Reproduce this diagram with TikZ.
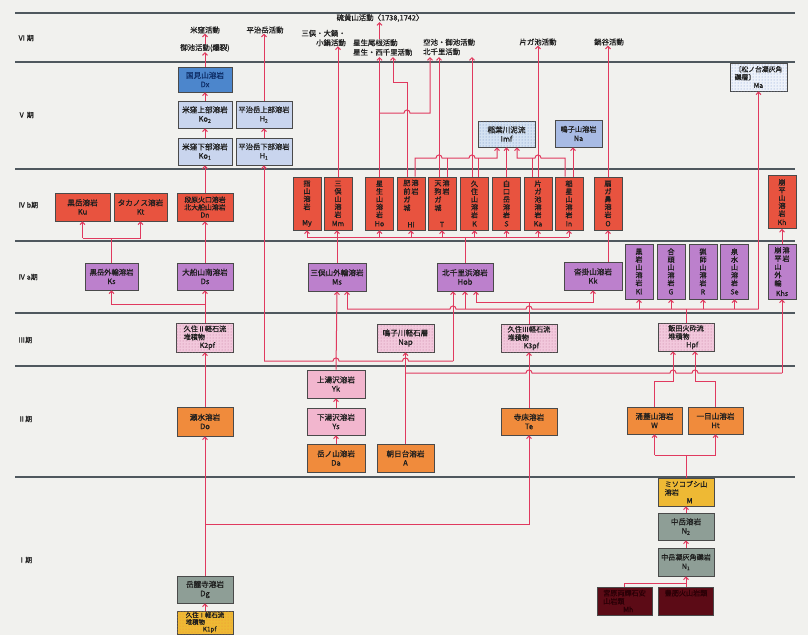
\documentclass[tikz,border=0pt]{standalone}
\usepackage{fontspec}
\newfontfamily\jp{Noto Sans CJK JP}[FakeBold=0.7]
\usetikzlibrary{arrows.meta,patterns}
\definecolor{bgc}{HTML}{F1F1EE}
\definecolor{pl}{HTML}{4F585E}
\definecolor{rl}{HTML}{E0395E}
\definecolor{bl}{HTML}{4A4A4A}
\definecolor{tx}{HTML}{1E1E1E}
\definecolor{dxb}{HTML}{4C86CC}
\definecolor{dxt}{HTML}{10306A}
\definecolor{pbl}{HTML}{C9D5EE}
\definecolor{nab}{HTML}{A8BBE4}
\definecolor{imfb}{HTML}{D4E2F2}
\definecolor{imfd}{HTML}{6A8AC0}
\definecolor{mab}{HTML}{EEF2FA}
\definecolor{mad}{HTML}{7A9AD0}
\definecolor{rd}{HTML}{E8533F}
\definecolor{pu}{HTML}{BC80CC}
\definecolor{pkd}{HTML}{F2C8DC}
\definecolor{pkdd}{HTML}{C0789A}
\definecolor{pk}{HTML}{F2B6CE}
\definecolor{og}{HTML}{F08B3C}
\definecolor{gr}{HTML}{8E9E96}
\definecolor{yl}{HTML}{EEB934}
\definecolor{dr}{HTML}{5C0B16}
\definecolor{drt}{HTML}{2A0006}
\begin{document}
\begin{tikzpicture}[x=1pt,y=-1pt,
  box/.style={draw=bl,line width=0.8pt,inner sep=0pt,align=center,text=tx,font=\jp\fontsize{7.6}{9}\selectfont},
  hbox/.style={box,minimum width=56pt,minimum height=27pt},
  tbox/.style={box,minimum width=56pt,minimum height=28pt,align=left,font=\jp\fontsize{7.1}{8.2}\selectfont},
  vbox/.style={box,minimum width=28pt,minimum height=53pt,font=\jp\fontsize{7.1}{7.8}\selectfont},
  dotpk/.style={fill=pkd,postaction={pattern=dots,pattern color=pkdd}},
  ttext/.style={inner sep=0pt,text=tx,font=\jp\fontsize{7.4}{9.5}\selectfont},
  plabel/.style={inner sep=0pt,anchor=west,text=tx,font=\jp\fontsize{7}{8}\selectfont},
  pline/.style={draw=pl,line width=1.2pt},
  conn/.style={draw=rl,line width=1pt},
  arr/.style={conn,-{Straight Barb[length=2.6pt,width=5pt]}}]
\fill[bgc] (0,0) rectangle (808,635);
\useasboundingbox (0,0) rectangle (808,635);
\clip (0,0) rectangle (808,635);
% period lines
\foreach \yy in {13,62,169,241,313,366,477} \draw[pline] (15,\yy) -- (795,\yy);
\node[plabel] (p6) at (18,38) {Ⅵ 期};
\node[plabel] (p5) at (18,115) {Ⅴ 期};
\node[plabel] (p4b) at (18,205) {Ⅳ b期};
\node[plabel] (p4a) at (18,277) {Ⅳ a期};
\node[plabel] (p3) at (18,340) {Ⅲ期};
\node[plabel] (p2) at (18,419) {Ⅱ期};
\node[plabel] (p1) at (18,560) {Ⅰ期};
% bus coordinates
\coordinate (b82) at (0,82);
\coordinate (b113) at (0,113);
\coordinate (b158) at (0,158);
\coordinate (b237) at (0,237);
\coordinate (b238) at (0,238);
\coordinate (b302) at (0,302);
\coordinate (b304) at (0,304);
\coordinate (b309) at (0,309);
\coordinate (b361) at (0,361);
\coordinate (b373) at (0,373);
\coordinate (b381) at (0,381);
\coordinate (b455) at (0,455);
\coordinate (b524) at (0,524);
\coordinate (b583) at (0,583);
\coordinate (b57) at (0,57);
% VI texts
\node[ttext] (komekubo) at (205,30) {米窪活動};
\node[ttext] (goike) at (205,48) {御池活動(爆裂)};
\node[ttext] (hijiact) at (265,30) {平治岳活動};
\node[ttext] (iouact) at (380,18) {硫黄山活動〈1738,1742〉};
\node[ttext,align=right,anchor=east] (mimact) at (346,38) {三俣・大鍋・\\小鍋活動};
\node[ttext,align=left,anchor=west] (hossact) at (353,47.5) {星生尾根活動\\星生・西千里活動};
\node[ttext,align=left,anchor=west] (karaact) at (423,47) {空池・御池活動\\北千里活動};
\node[ttext] (kataact) at (538,42) {片ガ池活動};
\node[ttext] (nabeact) at (609,42) {鍋谷活動};
% V
\node[box,fill=dxb,minimum width=54pt,minimum height=25pt,text=dxt] (Dx) at (205,79.5) {国見山溶岩\\Dx};
\node[hbox,fill=pbl,minimum width=54pt] (Ko2) at (205,114.5) {米窪上部溶岩\\Ko\textsubscript{2}};
\node[hbox,fill=pbl,font=\jp\fontsize{7.3}{9}\selectfont] (H2) at (264,114.5) {平治岳上部溶岩\\H\textsubscript{2}};
\node[hbox,fill=pbl,minimum width=54pt] (Ko1) at (205,151.5) {米窪下部溶岩\\Ko\textsubscript{1}};
\node[hbox,fill=pbl,font=\jp\fontsize{7.3}{9}\selectfont] (H1) at (264,151.5) {平治岳下部溶岩\\H\textsubscript{1}};
\node[hbox,fill=imfb,minimum width=57pt,minimum height=26pt,postaction={pattern=dots,pattern color=imfd}] (imf) at (506.5,134) {稲葉川泥流\\Imf};
\node[hbox,fill=nab,minimum width=47pt,font=\jp\fontsize{7.2}{9}\selectfont] (Na) at (578.5,133.5) {鳴子山溶岩\\Na};
\node[tbox,fill=mab,minimum width=57pt,postaction={pattern=dots,pattern color=mad},font=\jp\fontsize{6.8}{8}\selectfont] (Ma) at (758.5,77) {〔松ノ台凝灰角\\礫層〕\\\hspace*{19pt}Ma};
% IVb
\node[hbox,fill=rd,minimum width=55pt,minimum height=28pt] (Ku) at (82.5,207) {黒岳溶岩\\Ku};
\node[hbox,fill=rd,minimum width=53pt,minimum height=28pt] (Kt) at (140.5,207) {タカノス溶岩\\Kt};
\node[hbox,fill=rd,minimum height=28pt,font=\jp\fontsize{6.9}{7.6}\selectfont] (Dn) at (205,207) {段原火口溶岩\\北大船山溶岩\\Dn};
\node[vbox,fill=rd] (My) at (307,203.5) {指\\山\\溶\\岩\\[8pt]My};
\node[vbox,fill=rd] (Mm) at (338,203.5) {三\\俣\\山\\溶\\岩\\[1pt]Mm};
\node[vbox,fill=rd] (Ho) at (379.5,203.5) {星\\生\\山\\溶\\岩\\[1pt]Ho};
\node[vbox,fill=rd] (Hi) at (411,203.5) {\begin{tabular}{@{}c@{\hspace{1pt}}c@{}}肥&溶\\前&岩\\ガ&\\城&\end{tabular}\\[8pt]Hi};
\node[vbox,fill=rd] (T) at (442,203.5) {\begin{tabular}{@{}c@{\hspace{1pt}}c@{}}天&溶\\狗&岩\\ガ&\\城&\end{tabular}\\[8pt]T};
\node[vbox,fill=rd] (K) at (474.5,203.5) {久\\住\\山\\溶\\岩\\[1pt]K};
\node[vbox,fill=rd] (S) at (506.5,203.5) {白\\口\\岳\\溶\\岩\\[1pt]S};
\node[vbox,fill=rd] (Ka) at (538,203.5) {片\\ガ\\池\\溶\\岩\\[1pt]Ka};
\node[vbox,fill=rd] (In) at (569,203.5) {稲\\星\\山\\溶\\岩\\[1pt]In};
\node[vbox,fill=rd] (O) at (608,203.5) {扇\\ガ\\鼻\\溶\\岩\\[1pt]O};
\node[vbox,fill=rd] (Kh) at (782,202) {崩\\平\\山\\溶\\岩\\[1pt]Kh};
% IVa
\node[hbox,fill=pu,minimum width=53pt,font=\jp\fontsize{7.3}{9}\selectfont] (Ks) at (111.5,276.5) {黒岳外輪溶岩\\Ks};
\node[hbox,fill=pu] (Ds) at (205,276.5) {大船山南溶岩\\Ds};
\node[hbox,fill=pu,minimum width=58pt,minimum height=28pt] (Ms) at (337,277) {三俣山外輪溶岩\\Ms};
\node[hbox,fill=pu,minimum height=28pt] (Hob) at (465,277) {北千里浜溶岩\\Hob};
\node[hbox,fill=pu,minimum width=58pt,minimum height=28pt] (Kk) at (593,276) {沓掛山溶岩\\Kk};
\node[vbox,fill=pu,minimum height=55pt] (Kl) at (639,271.5) {黒\\岩\\山\\溶\\岩\\[1pt]Kl};
\node[vbox,fill=pu,minimum height=55pt] (G) at (671,271.5) {合\\頭\\山\\溶\\岩\\[1pt]G};
\node[vbox,fill=pu,minimum height=55pt] (R) at (703,271.5) {猟\\師\\山\\溶\\岩\\[1pt]R};
\node[vbox,fill=pu,minimum height=55pt] (Se) at (734.5,271.5) {泉\\水\\山\\溶\\岩\\[1pt]Se};
\node[vbox,fill=pu,minimum height=55pt] (Khs) at (782,271.5) {\begin{tabular}{@{}c@{\hspace{1pt}}c@{}}崩&溶\\平&岩\\山&\\外&\\輪&\end{tabular}\\[1pt]Khs};
% III
\node[tbox,dotpk,minimum width=57pt,minimum height=29pt] (K2pf) at (205,337.5) {久住Ⅱ軽石流\\堆積物\\\hspace*{16pt}K2pf};
\node[hbox,dotpk,minimum width=57pt,minimum height=28pt] (Nap) at (405.5,338) {鳴子川軽石層\\Nap};
\node[tbox,dotpk] (K3pf) at (529,338) {久住Ⅲ軽石流\\堆積物\\\hspace*{16pt}K3pf};
\node[tbox,dotpk] (Hpf) at (686,337) {飯田火砕流\\堆積物\\\hspace*{18pt}Hpf};
% II
\node[hbox,fill=pk,minimum width=58pt,minimum height=28pt] (Yk) at (336,384) {上湯沢溶岩\\Yk};
\node[hbox,fill=pk,minimum width=58pt] (Ys) at (336,421.5) {下湯沢溶岩\\Ys};
\node[hbox,fill=og,minimum width=58pt,minimum height=28pt] (Da) at (336,458) {岳ノ山溶岩\\Da};
\node[hbox,fill=og,minimum width=57pt,minimum height=28pt] (A) at (405.5,458) {朝日台溶岩\\A};
\node[hbox,fill=og,minimum height=29pt] (Do) at (205,421.5) {瀬水溶岩\\Do};
\node[hbox,fill=og] (Te) at (529,421.5) {寺床溶岩\\Te};
\node[hbox,fill=og,minimum width=55pt] (W) at (654.5,420.5) {涌蓋山溶岩\\W};
\node[hbox,fill=og,minimum width=55pt] (Ht) at (715.5,420.5) {一目山溶岩\\Ht};
% I
\node[tbox,fill=yl] (M) at (686,492) {ミソコブシ山\\溶岩\\\hspace*{22pt}M};
\node[hbox,fill=gr] (N2) at (686,526.5) {中岳溶岩\\N\textsubscript{2}};
\node[hbox,fill=gr,minimum height=28pt,font=\jp\fontsize{7.1}{9}\selectfont] (N1) at (686,562) {中岳凝灰角礫岩\\N\textsubscript{1}};
\node[hbox,fill=gr] (Dg) at (205,589.5) {岳麓寺溶岩\\Dg};
\node[tbox,fill=yl,minimum height=23pt,font=\jp\fontsize{6.4}{7}\selectfont,postaction={pattern=dots,pattern color=og}] (K1pf) at (205,622.5) {久住Ⅰ軽石流\\堆積物\\\hspace*{17pt}K1pf};
\node[tbox,fill=dr,minimum width=55pt,text=drt] (dk1) at (624.5,601) {宮原両輝石安\\山岩類\\\hspace*{20pt}Mh};
\node[tbox,fill=dr,minimum width=55pt,text=drt] (dk2) at (686,601) {豊肥火山岩類\\\\ };
% ---------- connectors ----------
% VI
\draw[arr] (Dx.north) -- (goike.south);
\draw[arr] (goike.north) -- (komekubo.south);
\draw[arr] (Ko2.north) -- (Dx.south);
\draw[arr] (Ko1.north) -- (Ko2.south);
\draw[arr] (H1.north) -- (H2.south);
\draw[arr] (H2.north) -- (H2.north |- hijiact.south);
\draw[arr] (Mm.north) -- (Mm.north |- mimact.south);
\draw[arr] (Ho.north) -- (Ho.north |- b57);
\draw[arr] (Ho.north |- hossact.north) -- (Ho.north |- iouact.south);
\draw[arr] ([xshift=-4pt]Hi.north) -- ([xshift=-4pt]Hi.north |- b82) -- (393,82) -- (393,57);
\draw[arr] (Ho.north |- b113) -- (404,113) .. controls (404,109) and (410,109) .. (410,113) -- (430,113) -- (430,57);
\draw[arr] ([xshift=-3pt]T.north) -- ([xshift=-3pt]T.north |- b57);
\draw[arr] ([xshift=-2.5pt]K.north) -- ([xshift=-2.5pt]K.north |- b57);
\draw[arr] (Ka.north) -- (Ka.north |- kataact.south);
\draw[arr] (O.north) -- (O.north |- nabeact.south);
% IVb -> V
\draw[arr] (Dn.north) -- (Ko1.south);
\draw[arr] ([xshift=4pt]Hi.north) -- ([xshift=4pt]Hi.north |- b158) -- (436,158) .. controls (436,154) and (442,154) .. (442,158) -- (469,158) .. controls (469,154) and (475,154) .. (475,158) -- ([xshift=-9.5pt]imf.south |- b158) -- ([xshift=-9.5pt]imf.south);
\draw[conn] ([xshift=5pt]T.north) -- ([xshift=5pt]T.north |- b158);
\draw[conn] ([xshift=3.5pt]K.north) -- ([xshift=3.5pt]K.north |- b158);
\draw[arr] (S.north) -- (imf.south);
\draw[arr] ([xshift=-4pt]In.north) -- ([xshift=-4pt]In.north |- b158) -- (541,158) .. controls (541,154) and (535,154) .. (535,158) -- ([xshift=10.5pt]imf.south |- b158) -- ([xshift=10.5pt]imf.south);
\draw[conn] ([xshift=-6pt]Ka.north) -- ([xshift=-6pt]Ka.north |- b158);
\draw[arr] ([xshift=4pt]In.north) -- ([xshift=4pt]In.north |- Na.south);
% IVa -> IVb
\draw[conn] (Ks.north) -- (Ks.north |- b238);
\draw[conn] (Ku.south |- b238) -- (Kt.south |- b238);
\draw[arr] (Ku.south |- b238) -- (Ku.south);
\draw[arr] (Kt.south |- b238) -- (Kt.south);
\draw[arr] (Ds.north) -- (Dn.south);
\draw[conn] (My.south |- b237) -- (In.south |- b237);
\draw[conn] (Hob.north) -- (Hob.north |- b237);
\foreach \n in {My,Ho,Hi,T,K,S,Ka,In} \draw[arr] (\n.south |- b237) -- (\n.south);
\draw[arr] (Ms.north) -- (Ms.north |- Mm.south);
\draw[arr] (O.south |- Kk.north) -- (O.south);
\draw[arr] (Khs.north) -- (Kh.south);
% III -> IVa
\draw[arr] (K2pf.north) -- (Ds.south);
\draw[arr] (Ds.south |- b304) -- (Ks.south |- b304) -- (Ks.south);
\draw[conn] (Hpf.north) -- (Hpf.north |- b309);
\draw[conn] ([xshift=10pt]Ms.south |- b309) -- (450,309) .. controls (450,305) and (456,305) .. (456,309) -- (526,309) .. controls (526,305) and (532,305) .. (532,309) -- (Ma.south |- b309);
\draw[arr] ([xshift=10pt]Ms.south |- b309) -- ([xshift=10pt]Ms.south);
\foreach \n in {Hob,Kl,G,R,Se,Ma} \draw[arr] (\n.south |- b309) -- (\n.south);
\draw[conn] (K3pf.north) -- (K3pf.north |- b302);
\draw[arr] (K3pf.north |- b302) -- ([xshift=11pt]Hob.south |- b302) -- ([xshift=11pt]Hob.south);
\draw[arr] (K3pf.north |- b302) -- (Kk.south |- b302) -- (Kk.south);
% II -> III / upward
\draw[arr] (H1.south |- b361) -- (H1.south);
\draw[conn] (H1.south |- b361) -- (333,361) .. controls (333,357) and (339,357) .. (339,361) -- (402.5,361) .. controls (402.5,357) and (408.5,357) .. (408.5,361) -- ([xshift=-12pt]Hob.south |- b361);
\draw[arr] ([xshift=-12pt]Hob.south |- b361) -- ([xshift=-12pt]Hob.south);
\draw[arr] (Yk.north) -- (Ms.south);
\draw[arr] (Ys.north) -- (Yk.south);
\draw[arr] (Da.north) -- (Ys.south);
\draw[arr] (A.north) -- (Nap.south);
\draw[conn] (A.north |- b373) -- (526,373) .. controls (526,369) and (532,369) .. (532,373) -- (670,373) .. controls (670,369) and (676,369) .. (676,373) -- (692,373) .. controls (692,369) and (698,369) .. (698,373) -- (Khs.south |- b373);
\draw[arr] (Khs.south |- b373) -- (Khs.south);
\draw[arr] (Te.north) -- (K3pf.south);
\draw[arr] (Do.north) -- (K2pf.south);
\draw[arr] (W.north) -- (W.north |- b381) -- ([xshift=-13pt]Hpf.south |- b381) -- ([xshift=-13pt]Hpf.south);
\draw[arr] (Ht.north) -- (Ht.north |- b381) -- ([xshift=9pt]Hpf.south |- b381) -- ([xshift=9pt]Hpf.south);
% I -> II
\draw[arr] (Dg.north) -- (Do.south);
\draw[arr] (Dg.north |- b524) -- (Te.south |- b524) -- (Te.south);
\draw[arr] (K1pf.north) -- (Dg.south);
\draw[conn] (M.north) -- (M.north |- b455);
\draw[conn] (W.south |- b455) -- (Ht.south |- b455);
\draw[arr] (W.south |- b455) -- (W.south);
\draw[arr] (Ht.south |- b455) -- (Ht.south);
\draw[arr] (N2.north) -- (M.south);
\draw[arr] (N1.north) -- (N2.south);
\draw[arr] (dk2.north) -- (N1.south);
\draw[conn] (dk1.north) -- (dk1.north |- b583) -- (N1.south |- b583);
\end{tikzpicture}
\end{document}
